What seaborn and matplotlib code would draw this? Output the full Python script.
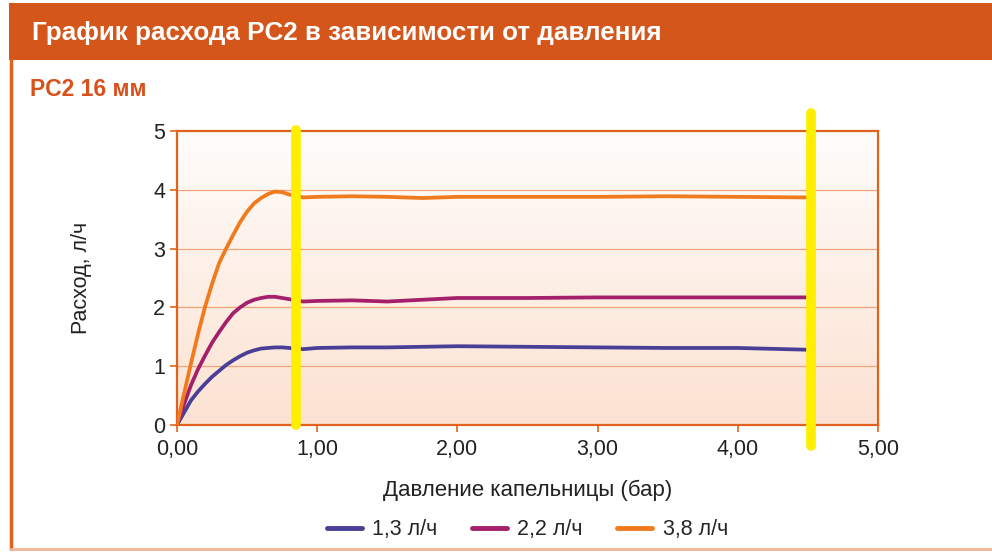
import numpy as np
import pandas as pd
import matplotlib
matplotlib.use("Agg")
import matplotlib.pyplot as plt
from matplotlib.patches import Rectangle
from matplotlib.lines import Line2D
import seaborn as sns

# data
pressure = [0, 0.05, 0.1, 0.15, 0.2, 0.25, 0.3, 0.35, 0.4, 0.45, 0.5, 0.55,
            0.6, 0.65, 0.7, 0.75, 0.8, 0.9, 1.0,
            1.25, 1.5, 1.75, 2.0, 2.5, 3.0, 3.5, 4.0, 4.5]
flow_13 = [0, 0.21, 0.42, 0.57, 0.70, 0.82, 0.92, 1.02, 1.10, 1.17, 1.23, 1.27,
           1.30, 1.31, 1.32, 1.32, 1.31, 1.29, 1.31,
           1.32, 1.32, 1.33, 1.34, 1.33, 1.32, 1.31, 1.31, 1.28]
flow_22 = [0, 0.35, 0.68, 0.95, 1.18, 1.40, 1.58, 1.75, 1.90, 2.00, 2.08, 2.13,
           2.16, 2.18, 2.18, 2.16, 2.14, 2.10, 2.11,
           2.12, 2.10, 2.13, 2.16, 2.16, 2.17, 2.17, 2.17, 2.17]
flow_38 = [0, 0.53, 1.05, 1.55, 2.01, 2.40, 2.75, 3.00, 3.23, 3.45, 3.63, 3.77,
           3.86, 3.93, 3.97, 3.96, 3.92, 3.87, 3.88,
           3.89, 3.88, 3.86, 3.88, 3.88, 3.88, 3.89, 3.88, 3.87]
series_names = ["1,3 л/ч", "2,2 л/ч", "3,8 л/ч"]
series_colors = ["#4a3f96", "#a5206b", "#f07a1c"]
x_ticks = [0, 1, 2, 3, 4, 5]
x_tick_labels = ["0,00", "1,00", "2,00", "3,00", "4,00", "5,00"]
y_ticks = [0, 1, 2, 3, 4, 5]
# yellow highlight marks drawn over the chart
mark_x = [0.85, 4.52]
mark_lo = [0.0, -0.35]
mark_hi = [5.02, 5.30]

frames = []
for name, vals in zip(series_names, [flow_13, flow_22, flow_38]):
    frames.append(pd.DataFrame({"p": pressure, "q": vals, "s": name}))
df = pd.concat(frames, ignore_index=True)

sns.set_theme(style="white")
plt.rcParams['font.family'] = ['Liberation Sans', 'DejaVu Sans']

orange = "#e0621c"
txt = "#222222"
fig = plt.figure(figsize=(9.92, 5.55), dpi=100)
fig.patch.set_facecolor("white")

# header band and frame
fig.patches.append(Rectangle((9/992, 1-60/555), 1, 57/555, transform=fig.transFigure,
                             facecolor="#d4561b", edgecolor="none", zorder=0))
fig.add_artist(Line2D([10.5/992, 10.5/992], [1-60/555, 1-549/555], transform=fig.transFigure,
                      color=orange, lw=2.5))
fig.add_artist(Line2D([10/992, 1], [1-549/555, 1-549/555], transform=fig.transFigure,
                      color="#f2b594", lw=2))
fig.text(32/992, 1-33/555, "График расхода PC2 в зависимости от давления",
         color="white", fontsize=18.7, fontweight="bold", va="center", ha="left")
fig.text(30/992, 1-90/555, "PC2 16 мм", color="#d8501a", fontsize=16.5,
         fontweight="bold", va="center", ha="left")

ax = fig.add_axes([177/992, 1-425/555, 701/992, 294/555])

# soft vertical gradient in the plot area (white top, peach bottom)
grad = np.linspace(0, 1, 256).reshape(-1, 1)
cmap = matplotlib.colors.LinearSegmentedColormap.from_list("bg", ["#fce2d2", "#fffdfb"])
ax.imshow(grad, extent=[0, 5, 0, 5], origin="lower", aspect="auto", cmap=cmap, zorder=0)

for yv in y_ticks[1:-1]:
    ax.axhline(yv, color="#f2a57a", lw=0.9, zorder=1)

sns.lineplot(data=df, x="p", y="q", hue="s", palette=series_colors, lw=2.7,
             ax=ax, legend=False, zorder=3)

for xm, lo, hi in zip(mark_x, mark_lo, mark_hi):
    ax.plot([xm, xm], [lo, hi], color="#ffee00", lw=7, solid_capstyle="round",
            clip_on=False, zorder=5)

ax.set_xlim(0, 5)
ax.set_ylim(0, 5)
ax.set_xticks(x_ticks)
ax.set_xticklabels(x_tick_labels)
ax.set_yticks(y_ticks)
for sp in ax.spines.values():
    sp.set_color(orange)
    sp.set_linewidth(1.6)
ax.tick_params(axis="both", colors=orange, labelcolor=txt, labelsize=15.5,
               direction="out", length=5, width=1.2, bottom=True, left=True)
ax.tick_params(axis="x", pad=5)
ax.set_xlabel("Давление капельницы (бар)", fontsize=16, color=txt, labelpad=14)
ax.set_ylabel("Расход, л/ч", fontsize=15.5, color=txt, labelpad=44)

handles = [Line2D([0], [0], color=c, lw=3.5) for c in series_colors]
ax.legend(handles, series_names, loc="upper center", bbox_to_anchor=(0.5, -0.255),
          ncol=3, frameon=False, fontsize=15.5, handlelength=1.6, columnspacing=1.6,
          handletextpad=0.5)

fig.savefig("out.png", dpi=100)
